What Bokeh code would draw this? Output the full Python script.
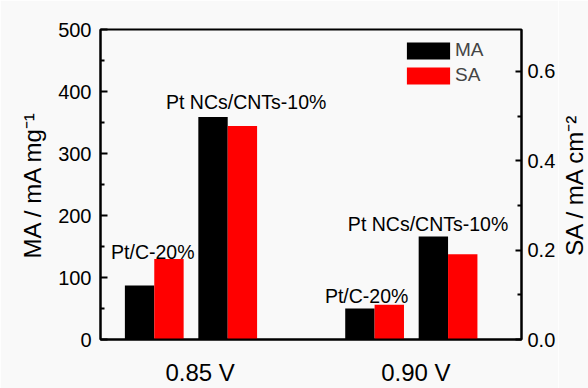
from bokeh.plotting import figure
from bokeh.layouts import row
from bokeh.models import (Range1d, LinearAxis, FixedTicker, PrintfTickFormatter,
                          Legend, LegendItem, ColumnDataSource, Title)
from bokeh.core.properties import value
from bokeh.embed import file_html
from bokeh.resources import INLINE

# ---------------- data ----------------
voltages = ["0.85 V", "0.90 V"]
catalysts = ["Pt/C-20%", "Pt NCs/CNTs-10%"]
# order: (0.85 V, Pt/C), (0.85 V, Pt NCs), (0.90 V, Pt/C), (0.90 V, Pt NCs)
ma_values = [87, 359, 50, 166]            # mA mg^-1
sa_values = [0.180, 0.478, 0.078, 0.191]  # mA cm^-2
ma_ticks = [0, 100, 200, 300, 400, 500]
ma_minor = [50, 150, 250, 350, 450]
sa_ticks = [0.0, 0.2, 0.4, 0.6]
sa_minor = [0.1, 0.3, 0.5]
ma_title = "MA / mA mg\u207b\u00b9"
sa_title = "SA / mA cm\u207b\u00b2"

# ---------------- layout / style ----------------
FONT = "Liberation Sans"
BG = "#f9f9f9"
MA_MAX = 500
SA_MAX = 0.694
GROUP_STEP = 3.0
PAIR_STEP = 1.0
BAR_W = 0.4
LABEL_SHIFT = [0.125, 0.0625]
ANN_DX = [-1.5, 18.5, -8, -20]
ANN_DY = [-7, -14.5, -8.3, -12.3]
W, H, W2 = 558, 388, 30
BORDER_L, BORDER_R, BORDER_T, BORDER_B = 100, 35, 29, 46

centers = [g * GROUP_STEP + j * PAIR_STEP + 0.5
           for g in range(len(voltages)) for j in range(len(catalysts))]
group_centers = [g * GROUP_STEP + 1.0 + LABEL_SHIFT[g] for g in range(len(voltages))]

p = figure(width=W, height=H, x_range=Range1d(-0.232, 5.50),
           y_range=Range1d(0, MA_MAX), output_backend="svg", toolbar_location=None,
           min_border_left=BORDER_L, min_border_right=BORDER_R,
           min_border_top=BORDER_T, min_border_bottom=BORDER_B)
p.background_fill_color = BG
p.border_fill_color = BG
p.outline_line_color = "black"
p.outline_line_width = 2
p.xgrid.visible = False
p.ygrid.visible = False
p.extra_y_ranges = {"sa": Range1d(0, SA_MAX)}

src_ma = ColumnDataSource(dict(x=[c - BAR_W / 2 for c in centers], top=ma_values))
src_sa = ColumnDataSource(dict(x=[c + BAR_W / 2 for c in centers], top=sa_values))
r_ma = p.vbar(x="x", top="top", width=BAR_W, source=src_ma,
              fill_color="#000000", line_color=None)
r_sa = p.vbar(x="x", top="top", width=BAR_W, source=src_sa, y_range_name="sa",
              fill_color="#ff0000", line_color=None)

# annotations above each pair
ratio = MA_MAX / SA_MAX
ann = ColumnDataSource(dict(
    x=centers,
    y=[max(m, s * ratio) for m, s in zip(ma_values, sa_values)],
    text=[catalysts[j] for g in range(len(voltages)) for j in range(len(catalysts))],
    dx=ANN_DX, dy=ANN_DY))
p.text(x="x", y="y", text="text", x_offset="dx", y_offset="dy", source=ann,
       text_font=value(FONT), text_font_size="19.5px", text_align="center",
       text_baseline="alphabetic", text_color="black")

def style_axis(ax):
    ax.axis_line_width = 2
    ax.axis_line_color = "black"
    ax.major_tick_line_width = 2
    ax.minor_tick_line_width = 2
    ax.major_tick_out = 0
    ax.minor_tick_out = 0
    ax.major_label_text_font = FONT
    ax.major_label_text_color = "black"

# x axis
xa = p.xaxis[0]
style_axis(xa)
xa.ticker = FixedTicker(ticks=group_centers, minor_ticks=[])
xa.major_label_overrides = {gc: v for gc, v in zip(group_centers, voltages)}
xa.major_tick_in = 0
xa.minor_tick_in = 0
xa.major_label_text_font_size = "24px"
xa.major_label_standoff = 19

# left axis
ya = p.yaxis[0]
style_axis(ya)
ya.ticker = FixedTicker(ticks=ma_ticks, minor_ticks=ma_minor)
ya.major_tick_in = 7
ya.minor_tick_in = 4
ya.major_label_text_font_size = "20px"
ya.major_label_standoff = 9

# right axis
ra = LinearAxis(y_range_name="sa",
                ticker=FixedTicker(ticks=sa_ticks, minor_ticks=sa_minor),
                formatter=PrintfTickFormatter(format="%.1f"))
style_axis(ra)
ra.major_tick_in = 6
ra.minor_tick_in = 4
ra.major_label_text_font_size = "20px"
ra.major_label_standoff = 6
p.add_layout(ra, "right")

def side_title(txt, offset, standoff):
    return Title(text=txt, align="center", offset=offset, standoff=standoff,
                 text_font=FONT, text_font_size="24px", text_font_style="normal",
                 text_color="black")

# left title (reads bottom-to-top), outside the left axis
p.add_layout(side_title(ma_title, -15, 20), "left")

legend = Legend(items=[LegendItem(label="MA", renderers=[r_ma]),
                       LegendItem(label="SA", renderers=[r_sa])],
                location=(301, 253), glyph_width=54, glyph_height=21, spacing=3,
                padding=0, margin=0, label_standoff=0, label_height=21,
                border_line_color=None, background_fill_alpha=0,
                label_text_font=FONT, label_text_font_size="19px")
p.add_layout(legend)

# narrow strip to the right carrying the SA title, also reading bottom-to-top
p2 = figure(width=W2, height=H, x_range=Range1d(0, 1), y_range=Range1d(0, 1),
            x_axis_type=None, y_axis_type=None, output_backend="svg",
            toolbar_location=None, min_border_left=0, min_border_right=0,
            min_border_top=BORDER_T, min_border_bottom=BORDER_B)
p2.background_fill_color = BG
p2.border_fill_color = BG
p2.outline_line_color = None
p2.grid.visible = False
p2.add_layout(side_title(sa_title, -10, 0), "left")

layout = row(p, p2, spacing=0)
open("out.html", "w").write(file_html(layout, INLINE))
